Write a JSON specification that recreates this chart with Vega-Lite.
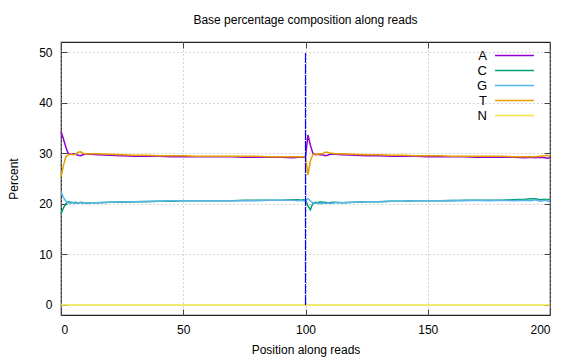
{
  "$schema": "https://vega.github.io/schema/vega-lite/v6.json",
  "width": 489,
  "height": 273,
  "autosize": {"type": "none"},
  "padding": {"left": 61, "top": 42, "right": 26, "bottom": 45},
  "background": "white",
  "title": {"text": "Base percentage composition along reads", "fontSize": 12, "font": "Liberation Sans", "fontWeight": "normal", "color": "black", "offset": 15},
  "config": {"view": {"stroke": "#222", "strokeWidth": 1.2}, "font": "Liberation Sans"},
  "datasets": {
    "comp": [
      {"pos": 0, "A": 34.3, "C": 18.0, "G": 22.4, "T": 25.3, "N": 0},
      {"pos": 1, "A": 32.8, "C": 19.2, "G": 21.2, "T": 27.6, "N": 0},
      {"pos": 2, "A": 31.2, "C": 20.0, "G": 20.5, "T": 29.3, "N": 0},
      {"pos": 3, "A": 29.9, "C": 20.4, "G": 20.2, "T": 29.7, "N": 0},
      {"pos": 4, "A": 29.8, "C": 20.3, "G": 20.1, "T": 29.8, "N": 0},
      {"pos": 5, "A": 29.9, "C": 20.2, "G": 20.2, "T": 29.7, "N": 0},
      {"pos": 6, "A": 29.8, "C": 20.3, "G": 20.1, "T": 29.8, "N": 0},
      {"pos": 7, "A": 29.6, "C": 20.1, "G": 20.2, "T": 30.2, "N": 0},
      {"pos": 8, "A": 29.5, "C": 20.3, "G": 20.2, "T": 30.3, "N": 0},
      {"pos": 9, "A": 29.7, "C": 20.2, "G": 20.1, "T": 30.0, "N": 0},
      {"pos": 10, "A": 29.9, "C": 20.2, "G": 20.2, "T": 29.9, "N": 0},
      {"pos": 11, "A": 29.8, "C": 20.1, "G": 20.2, "T": 29.9, "N": 0},
      {"pos": 12, "A": 29.8, "C": 20.2, "G": 20.2, "T": 29.9, "N": 0},
      {"pos": 15, "A": 29.7, "C": 20.2, "G": 20.2, "T": 29.9, "N": 0},
      {"pos": 20, "A": 29.6, "C": 20.3, "G": 20.3, "T": 29.8, "N": 0},
      {"pos": 25, "A": 29.5, "C": 20.3, "G": 20.4, "T": 29.7, "N": 0},
      {"pos": 30, "A": 29.4, "C": 20.4, "G": 20.4, "T": 29.6, "N": 0},
      {"pos": 35, "A": 29.4, "C": 20.4, "G": 20.5, "T": 29.6, "N": 0},
      {"pos": 40, "A": 29.4, "C": 20.5, "G": 20.5, "T": 29.5, "N": 0},
      {"pos": 45, "A": 29.3, "C": 20.5, "G": 20.6, "T": 29.5, "N": 0},
      {"pos": 50, "A": 29.3, "C": 20.6, "G": 20.6, "T": 29.5, "N": 0},
      {"pos": 55, "A": 29.3, "C": 20.6, "G": 20.6, "T": 29.4, "N": 0},
      {"pos": 60, "A": 29.3, "C": 20.6, "G": 20.6, "T": 29.4, "N": 0},
      {"pos": 65, "A": 29.3, "C": 20.6, "G": 20.6, "T": 29.4, "N": 0},
      {"pos": 70, "A": 29.3, "C": 20.6, "G": 20.6, "T": 29.4, "N": 0},
      {"pos": 75, "A": 29.2, "C": 20.7, "G": 20.6, "T": 29.4, "N": 0},
      {"pos": 80, "A": 29.2, "C": 20.7, "G": 20.6, "T": 29.4, "N": 0},
      {"pos": 85, "A": 29.2, "C": 20.7, "G": 20.7, "T": 29.3, "N": 0},
      {"pos": 90, "A": 29.2, "C": 20.7, "G": 20.7, "T": 29.3, "N": 0},
      {"pos": 95, "A": 29.1, "C": 20.8, "G": 20.7, "T": 29.3, "N": 0},
      {"pos": 97, "A": 29.2, "C": 20.8, "G": 20.6, "T": 29.3, "N": 0},
      {"pos": 98, "A": 29.2, "C": 20.7, "G": 20.7, "T": 29.3, "N": 0},
      {"pos": 99, "A": 29.2, "C": 20.8, "G": 20.6, "T": 29.3, "N": 0},
      {"pos": 100, "A": 29.3, "C": 20.7, "G": 20.6, "T": 29.3, "N": 0},
      {"pos": 101, "A": 33.6, "C": 19.6, "G": 21.0, "T": 25.7, "N": 0},
      {"pos": 102, "A": 31.6, "C": 18.8, "G": 20.6, "T": 28.5, "N": 0},
      {"pos": 103, "A": 30.0, "C": 20.1, "G": 20.2, "T": 29.7, "N": 0},
      {"pos": 104, "A": 29.7, "C": 20.3, "G": 20.1, "T": 29.9, "N": 0},
      {"pos": 105, "A": 29.8, "C": 20.2, "G": 20.1, "T": 29.8, "N": 0},
      {"pos": 106, "A": 29.7, "C": 20.4, "G": 20.0, "T": 29.9, "N": 0},
      {"pos": 107, "A": 29.7, "C": 20.3, "G": 20.1, "T": 29.9, "N": 0},
      {"pos": 108, "A": 29.5, "C": 20.3, "G": 20.1, "T": 30.2, "N": 0},
      {"pos": 109, "A": 29.6, "C": 20.2, "G": 20.1, "T": 30.2, "N": 0},
      {"pos": 110, "A": 29.8, "C": 20.2, "G": 20.1, "T": 30.0, "N": 0},
      {"pos": 111, "A": 29.8, "C": 20.3, "G": 20.1, "T": 30.0, "N": 0},
      {"pos": 112, "A": 29.8, "C": 20.3, "G": 20.2, "T": 29.9, "N": 0},
      {"pos": 115, "A": 29.7, "C": 20.2, "G": 20.2, "T": 29.9, "N": 0},
      {"pos": 120, "A": 29.6, "C": 20.3, "G": 20.3, "T": 29.8, "N": 0},
      {"pos": 125, "A": 29.5, "C": 20.4, "G": 20.4, "T": 29.7, "N": 0},
      {"pos": 130, "A": 29.5, "C": 20.4, "G": 20.4, "T": 29.7, "N": 0},
      {"pos": 135, "A": 29.4, "C": 20.5, "G": 20.5, "T": 29.6, "N": 0},
      {"pos": 140, "A": 29.4, "C": 20.5, "G": 20.5, "T": 29.6, "N": 0},
      {"pos": 145, "A": 29.4, "C": 20.6, "G": 20.6, "T": 29.5, "N": 0},
      {"pos": 150, "A": 29.3, "C": 20.6, "G": 20.6, "T": 29.5, "N": 0},
      {"pos": 155, "A": 29.3, "C": 20.6, "G": 20.6, "T": 29.5, "N": 0},
      {"pos": 160, "A": 29.3, "C": 20.6, "G": 20.7, "T": 29.4, "N": 0},
      {"pos": 165, "A": 29.3, "C": 20.7, "G": 20.6, "T": 29.4, "N": 0},
      {"pos": 170, "A": 29.2, "C": 20.7, "G": 20.7, "T": 29.4, "N": 0},
      {"pos": 175, "A": 29.2, "C": 20.7, "G": 20.6, "T": 29.4, "N": 0},
      {"pos": 180, "A": 29.2, "C": 20.7, "G": 20.7, "T": 29.4, "N": 0},
      {"pos": 185, "A": 29.2, "C": 20.8, "G": 20.6, "T": 29.3, "N": 0},
      {"pos": 190, "A": 29.1, "C": 20.9, "G": 20.7, "T": 29.3, "N": 0},
      {"pos": 192, "A": 29.2, "C": 21.0, "G": 20.6, "T": 29.3, "N": 0},
      {"pos": 194, "A": 29.1, "C": 21.0, "G": 20.8, "T": 29.3, "N": 0},
      {"pos": 196, "A": 29.2, "C": 20.8, "G": 20.5, "T": 29.4, "N": 0},
      {"pos": 198, "A": 29.1, "C": 20.9, "G": 20.7, "T": 29.5, "N": 0},
      {"pos": 199, "A": 29.0, "C": 20.8, "G": 20.6, "T": 29.6, "N": 0},
      {"pos": 200, "A": 29.1, "C": 20.9, "G": 20.4, "T": 29.4, "N": 0}
    ],
    "marker": [{"pos": 100, "lo": 0, "hi": 50}]
  },
  "layer": [
    {
      "data": {"name": "comp"},
      "transform": [{"fold": ["A", "C", "G", "T", "N"], "as": ["base", "pct"]}],
      "mark": {"type": "line", "strokeWidth": 1.5},
      "encoding": {
        "x": {
          "field": "pos", "type": "quantitative",
          "scale": {"domain": [0, 200], "nice": false, "zero": false},
          "axis": {"orient": "bottom", "values": [0, 50, 100, 150, 200], "grid": true, "gridDash": [1, 3], "gridColor": "#aaa",
                   "tickSize": -6, "tickColor": "#444", "domain": false, "labelFontSize": 12, "labelColor": "black", "labelPadding": 15,
                   "title": "Position along reads", "titleFontSize": 12, "titleFontWeight": "normal", "titleColor": "black", "titlePadding": 9}
        },
        "y": {
          "field": "pct", "type": "quantitative",
          "scale": {"domain": [-2, 52], "nice": false, "zero": false},
          "axis": {"orient": "left", "values": [0, 10, 20, 30, 40, 50], "grid": true, "gridDash": [1, 3], "gridColor": "#aaa",
                   "tickSize": -6, "tickColor": "#444", "domain": false, "labelFontSize": 12, "labelColor": "black", "labelPadding": 15,
                   "title": "Percent", "titleFontSize": 12, "titleFontWeight": "normal", "titleColor": "black", "titlePadding": 18}
        },
        "color": {
          "field": "base", "type": "nominal",
          "scale": {"domain": ["A", "C", "G", "T", "N"], "range": ["#9400D3", "#009E73", "#56B4E9", "#E69F00", "#F0E442"]},
          "legend": {"orient": "none", "legendX": 446, "legendY": 6, "title": null, "symbolType": "M-3,0H3", "symbolSize": 169, "symbolStrokeWidth": 1.5,
                     "labelAlign": "right", "labelOffset": -35, "labelFontSize": 13, "labelColor": "black", "rowPadding": -2,
                     "padding": 0}
        }
      }
    },
    {
      "data": {"name": "marker"},
      "mark": {"type": "rule", "color": "#0000FF", "strokeWidth": 1.2, "strokeDash": [10, 1]},
      "encoding": {
        "x": {"field": "pos", "type": "quantitative",
              "axis": {"orient": "top", "values": [0, 50, 100, 150, 200], "labels": false, "title": null, "grid": false, "tickSize": -6, "tickColor": "#444", "domain": false}},
        "y": {"field": "lo", "type": "quantitative",
              "axis": {"orient": "right", "values": [0, 10, 20, 30, 40, 50], "labels": false, "title": null, "grid": false, "tickSize": -6, "tickColor": "#444", "domain": false}},
        "y2": {"field": "hi"}
      }
    }
  ],
  "resolve": {"axis": {"x": "independent", "y": "independent"}}
}
